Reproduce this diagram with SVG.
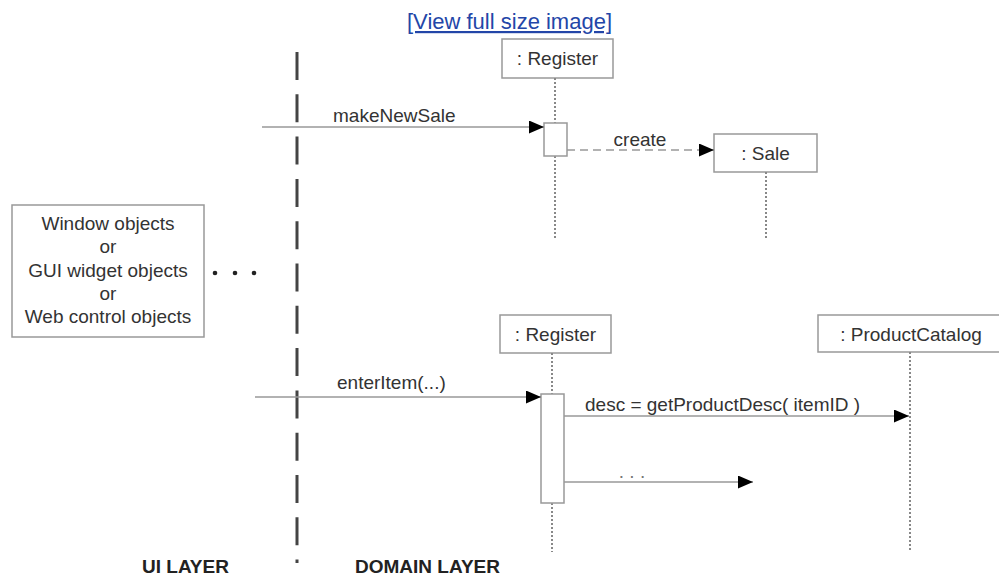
<svg xmlns="http://www.w3.org/2000/svg" width="999" height="576" viewBox="0 0 999 576">
<style>
text{font-family:"Liberation Sans",Arial,sans-serif;font-size:19px;fill:#333}
.box{fill:#fff;stroke:#999;stroke-width:1.5}
.life{stroke:#888;stroke-width:2;stroke-dasharray:2,2;fill:none}
.msg{stroke:#999;stroke-width:1.5;fill:none}
.layer{font-weight:bold;fill:#222}
</style>
<defs>
<marker id="ah" markerUnits="userSpaceOnUse" markerWidth="16" markerHeight="14" refX="15" refY="6.5" orient="auto">
<path d="M0,0 L15,6.5 L0,13 z" fill="#000"/>
</marker>
</defs>
<rect width="999" height="576" fill="#fff"/>
<text x="407" y="29" style="font-size:22px;fill:#2346a8" text-decoration="underline">[View full size image]</text>

<g id="layer-divider">
<line x1="297" y1="52" x2="297" y2="563" stroke="#444" stroke-width="3" stroke-dasharray="28,14.3"/>
</g>

<g id="ui-objects">
<rect class="box" x="12" y="205" width="192" height="132"/>
<text x="108" y="230" text-anchor="middle">Window objects</text>
<text x="108" y="253" text-anchor="middle">or</text>
<text x="108" y="277" text-anchor="middle">GUI widget objects</text>
<text x="108" y="300" text-anchor="middle">or</text>
<text x="108" y="323" text-anchor="middle">Web control objects</text>
</g>
<g id="ellipsis-dots" fill="#222">
<circle cx="215" cy="273" r="2.3"/>
<circle cx="235" cy="273" r="2.3"/>
<circle cx="254" cy="273" r="2.3"/>
</g>

<g id="register1">
<rect class="box" x="502" y="39" width="111" height="39"/>
<text x="557.5" y="65" text-anchor="middle">: Register</text>
<line class="life" x1="555" y1="78" x2="555" y2="123"/>
<line class="life" x1="555" y1="156" x2="555" y2="238"/>
<rect class="box" x="544" y="123" width="23" height="33"/>
</g>

<g id="sale">
<rect class="box" x="714" y="134" width="103" height="38"/>
<text x="765.5" y="160" text-anchor="middle">: Sale</text>
<line class="life" x1="766" y1="172" x2="766" y2="238"/>
</g>

<g id="register2">
<rect class="box" x="500" y="315" width="111" height="38"/>
<text x="555.5" y="341" text-anchor="middle">: Register</text>
<line class="life" x1="552" y1="353" x2="552" y2="394"/>
<line class="life" x1="552" y1="503" x2="552" y2="552"/>
<rect class="box" x="541" y="394" width="23" height="109"/>
</g>

<g id="productcatalog">
<rect class="box" x="818" y="315" width="186" height="37"/>
<text x="911" y="341" text-anchor="middle">: ProductCatalog</text>
<line class="life" x1="910" y1="352" x2="910" y2="552"/>
</g>

<g id="connectors">
<line class="msg" x1="262" y1="127" x2="544" y2="127" marker-end="url(#ah)"/>
<text x="333" y="122">makeNewSale</text>
<line class="msg" x1="567" y1="150" x2="714" y2="150" stroke-dasharray="8,5" marker-end="url(#ah)"/>
<text x="640" y="146" text-anchor="middle">create</text>
<line class="msg" x1="255" y1="397" x2="541" y2="397" marker-end="url(#ah)"/>
<text x="337" y="389">enterItem(...)</text>
<line class="msg" x1="564" y1="416" x2="909" y2="416" marker-end="url(#ah)"/>
<text x="585" y="411">desc = getProductDesc( itemID )</text>
<line class="msg" x1="564" y1="482" x2="753" y2="482" marker-end="url(#ah)"/>
<text x="632" y="478" text-anchor="middle" style="fill:#777">. . .</text>
</g>

<text class="layer" x="142" y="573">UI LAYER</text>
<text class="layer" x="355" y="573">DOMAIN LAYER</text>
</svg>
